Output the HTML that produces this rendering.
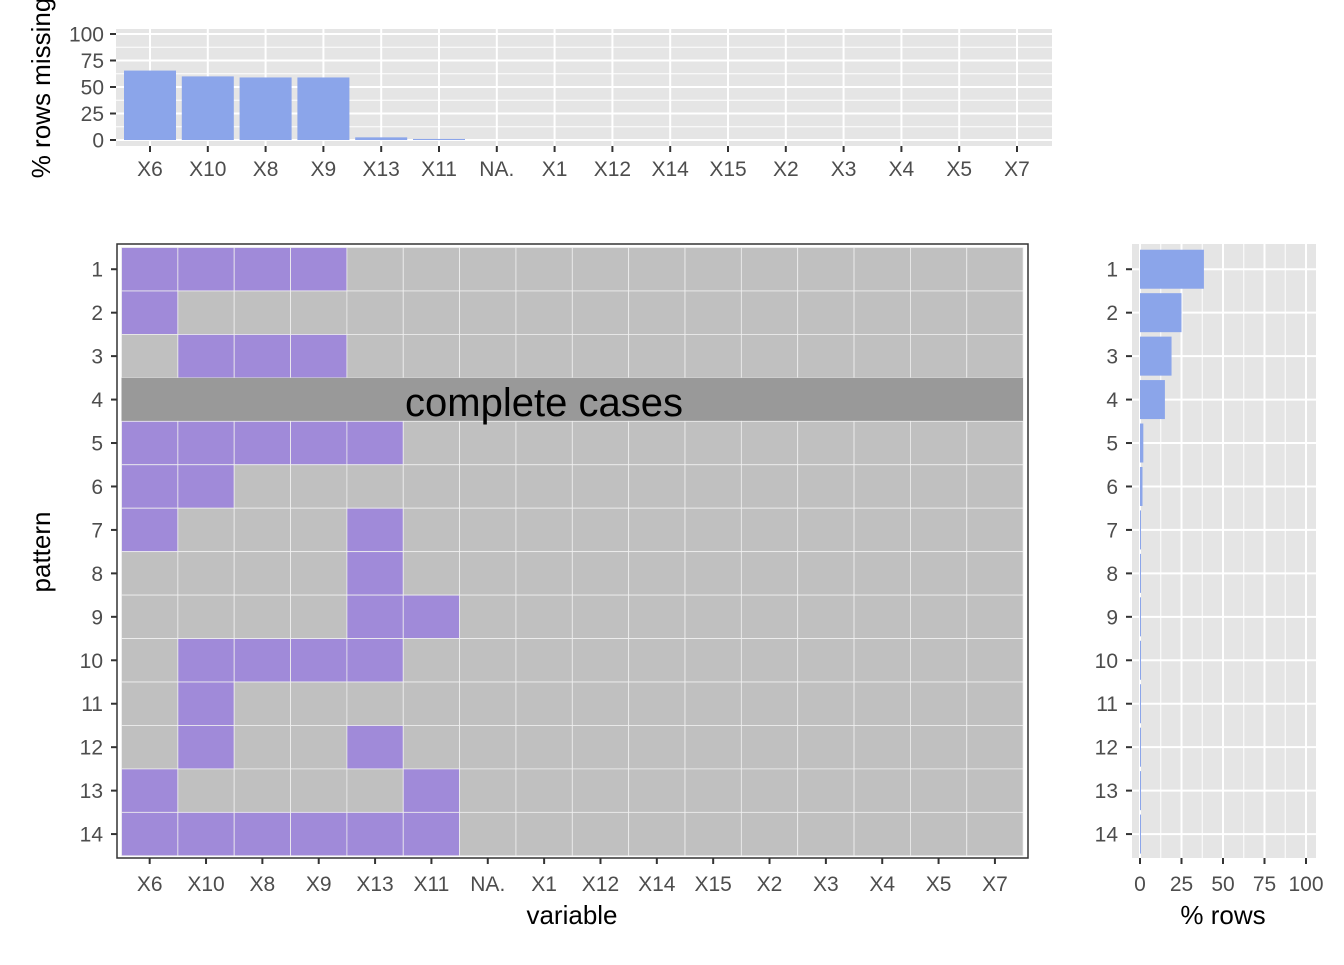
<!DOCTYPE html>
<html><head><meta charset="utf-8"><style>
body{margin:0;background:#fff;}
svg text{font-family:"Liberation Sans",Arial,sans-serif;}
</style></head><body>
<svg id="c" width="1344" height="960" xmlns="http://www.w3.org/2000/svg"></svg>
<script>
const variables=["X6","X10","X8","X9","X13","X11","NA.","X1","X12","X14","X15","X2","X3","X4","X5","X7"];
const pctMissing=[65.5,60,59,59,2.5,1,0,0,0,0,0,0,0,0,0,0];
const patterns=["1","2","3","4","5","6","7","8","9","10","11","12","13","14"];
const patternPct=[38.5,25,19,15,2,1.5,0.6,0.5,0.5,0.5,0.4,0.4,0.4,0.4];
const missMatrix=[
[1,1,1,1,0,0],[1,0,0,0,0,0],[0,1,1,1,0,0],null,[1,1,1,1,1,0],[1,1,0,0,0,0],
[1,0,0,0,1,0],[0,0,0,0,1,0],[0,0,0,0,1,1],[0,1,1,1,1,0],[0,1,0,0,0,0],
[0,1,0,0,1,0],[1,0,0,0,0,1],[1,1,1,1,1,1]];
const pctTicks=[0,25,50,75,100];
const svg=document.getElementById('c');const NS="http://www.w3.org/2000/svg";
function el(t,a,txt){const e=document.createElementNS(NS,t);for(const k in a)e.setAttribute(k,a[k]);if(txt!==undefined)e.textContent=txt;svg.appendChild(e);return e;}
const cellW=56.35,cellH=43.45,x0=121.5,y0=247.5;
const colX=i=>x0+cellW*(i+0.5);
const rowY=j=>y0+cellH*(j+0.5);
const BG='#e5e5e5',TK=21,TT=26;
// top chart
const tY=v=>140-v*1.06;
let e=el('rect',{x:116,y:29,width:936,height:117,fill:BG});

for(let v=12.5;v<=112.5;v+=25){if(tY(v)>29)el('line',{x1:116,x2:1052,y1:tY(v),y2:tY(v),stroke:'#fff','stroke-width':1});}
pctTicks.forEach(v=>{el('line',{x1:116,x2:1052,y1:tY(v),y2:tY(v),stroke:'#fff','stroke-width':2});
 el('line',{x1:110,x2:116,y1:tY(v),y2:tY(v),stroke:'#333','stroke-width':2});
 e=el('text',{x:104,y:tY(v)+7.5,'text-anchor':'end','font-size':TK,fill:'#4d4d4d'},v);
 });
variables.forEach((n,i)=>{const cx=150+i*57.8;
 el('line',{x1:cx,x2:cx,y1:29,y2:146,stroke:'#fff','stroke-width':2});
 el('line',{x1:cx,x2:cx,y1:146,y2:152,stroke:'#333','stroke-width':2});
 e=el('text',{x:cx,y:176,'text-anchor':'middle','font-size':TK,fill:'#4d4d4d'},n);
 
 if(pctMissing[i]>0){e=el('rect',{x:cx-26,y:tY(pctMissing[i]),width:52,height:pctMissing[i]*1.06,fill:'#8ba5ea'});
 }});
e=el('text',{x:0,y:0,transform:'translate(50,88) rotate(-90)','text-anchor':'middle','font-size':TT,fill:'#000'},'% rows missing');

// main heatmap
e=el('rect',{x:117,y:244,width:911,height:614,fill:'#fff',stroke:'#333','stroke-width':1.5});

patterns.forEach((p,j)=>{
 if(missMatrix[j]===null){e=el('rect',{x:x0,y:y0+cellH*j,width:cellW*16,height:cellH,fill:'#999999'});
  }
 else variables.forEach((v,i)=>{const m=i<6&&missMatrix[j][i];
  e=el('rect',{x:x0+cellW*i,y:y0+cellH*j,width:cellW,height:cellH,fill:m?'#a08ad9':'#c0c0c0',stroke:'#f0f0f0','stroke-width':0.8});
  });
 el('line',{x1:111,x2:117,y1:rowY(j),y2:rowY(j),stroke:'#333','stroke-width':2});
 e=el('text',{x:103,y:rowY(j)+7.5,'text-anchor':'end','font-size':TK,fill:'#4d4d4d'},p);
 });
e=el('text',{x:544,y:416,'text-anchor':'middle','font-size':40,fill:'#000'},'complete cases');

variables.forEach((n,i)=>{el('line',{x1:colX(i),x2:colX(i),y1:858,y2:864,stroke:'#333','stroke-width':2});
 e=el('text',{x:colX(i),y:891,'text-anchor':'middle','font-size':TK,fill:'#4d4d4d'},n);
 });
e=el('text',{x:572,y:924,'text-anchor':'middle','font-size':TT,fill:'#000'},'variable');

e=el('text',{x:0,y:0,transform:'translate(50,552) rotate(-90)','text-anchor':'middle','font-size':TT,fill:'#000'},'pattern');

// right chart
const rX=v=>1140+v*1.66;
e=el('rect',{x:1132,y:244,width:184,height:614,fill:BG});

for(let v=12.5;v<=100;v+=25)el('line',{x1:rX(v),x2:rX(v),y1:244,y2:858,stroke:'#fff','stroke-width':1});
pctTicks.forEach(v=>{el('line',{x1:rX(v),x2:rX(v),y1:244,y2:858,stroke:'#fff','stroke-width':2});
 el('line',{x1:rX(v),x2:rX(v),y1:858,y2:864,stroke:'#333','stroke-width':2});
 e=el('text',{x:rX(v),y:891,'text-anchor':'middle','font-size':TK,fill:'#4d4d4d'},v);
 });
patterns.forEach((p,j)=>{el('line',{x1:1132,x2:1316,y1:rowY(j),y2:rowY(j),stroke:'#fff','stroke-width':2});
 el('line',{x1:1126,x2:1132,y1:rowY(j),y2:rowY(j),stroke:'#333','stroke-width':2});
 e=el('text',{x:1118,y:rowY(j)+7.5,'text-anchor':'end','font-size':TK,fill:'#4d4d4d'},p);
 
 e=el('rect',{x:rX(0),y:rowY(j)-19.5,width:Math.max(patternPct[j]*1.66,1),height:39,fill:'#8ba5ea'});
 });
e=el('text',{x:1223,y:924,'text-anchor':'middle','font-size':TT,fill:'#000'},'% rows');

</script>
</body></html>
